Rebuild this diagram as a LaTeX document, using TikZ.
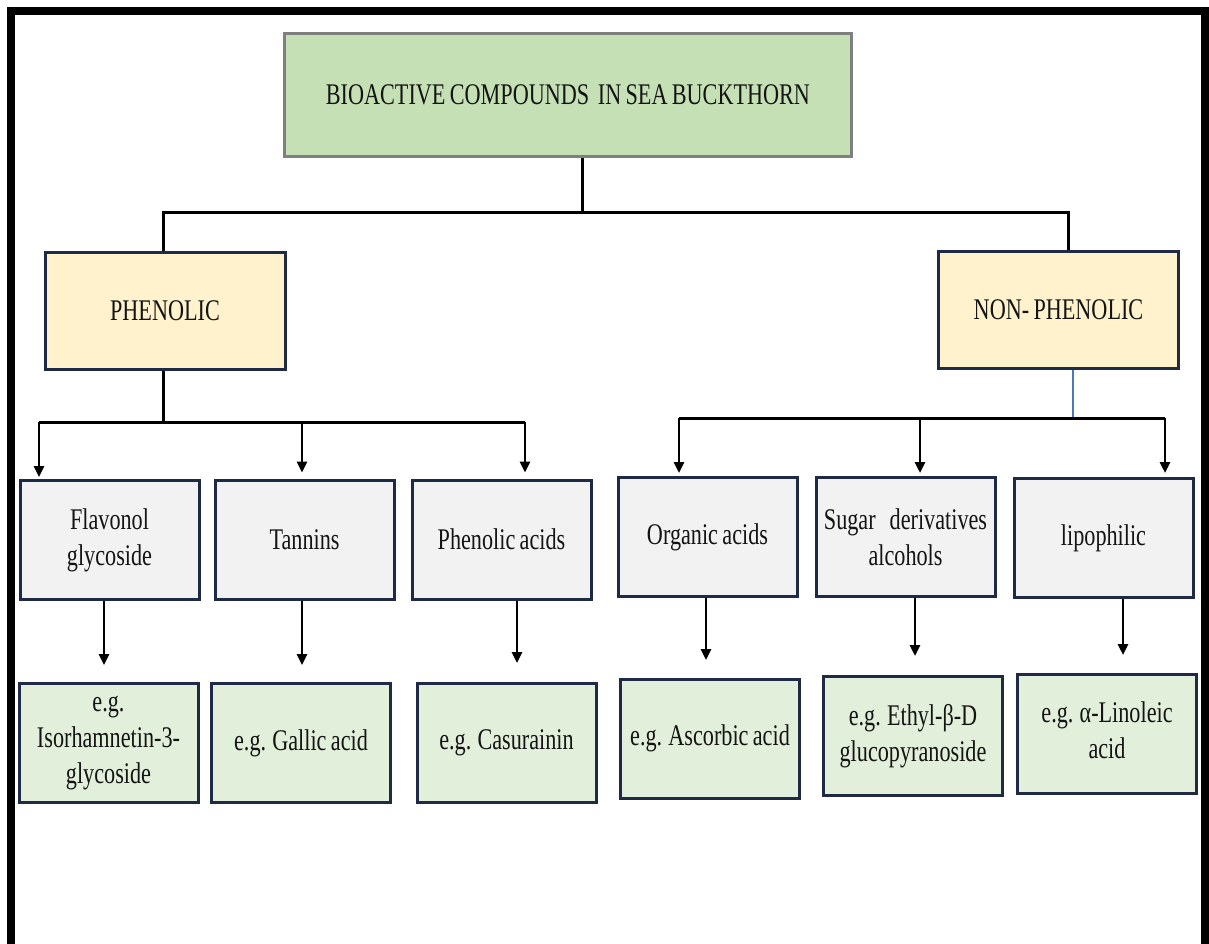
\documentclass[tikz,border=0pt]{standalone}
\usepackage{fontspec}
\setmainfont[FakeStretch=0.74,WordSpace=0.78]{Liberation Serif}
\usetikzlibrary{arrows.meta}
\definecolor{topfill}{HTML}{C5E0B4}
\definecolor{topdraw}{HTML}{7F7F7F}
\definecolor{catfill}{HTML}{FFF2CC}
\definecolor{navy}{HTML}{1F2B45}
\definecolor{midfill}{HTML}{F2F2F2}
\definecolor{botfill}{HTML}{E2EFDA}
\definecolor{txt}{HTML}{141414}
\definecolor{blueline}{HTML}{4A78B8}
\tikzset{
  basebox/.style={rectangle, inner sep=2pt, align=center, text=txt,
    font=\fontsize{30}{36}\selectfont, line width=3pt},
  topbox/.style={basebox, draw=topdraw, fill=topfill, minimum width=567pt, minimum height=123pt},
  catbox/.style={basebox, draw=navy, fill=catfill, minimum width=240pt, minimum height=117pt},
  midbox/.style={basebox, draw=navy, fill=midfill, minimum width=179pt, minimum height=119pt},
  botbox/.style={basebox, draw=navy, fill=botfill, minimum width=179pt, minimum height=119pt},
  conn/.style={draw=black, line width=3pt},
  arr/.style={draw=black, line width=2.6pt, -{Triangle[length=11pt,width=10pt]}},
  frame/.style={draw=black, line width=8pt}
}
\begin{document}
\begin{tikzpicture}[x=1pt,y=-1pt]
\useasboundingbox (0,0) rectangle (1209,943);
\fill[white] (0,0) rectangle (1209,943);
\draw[frame] (11,950) -- (11,11) -- (1205,11) -- (1205,950);

% boxes
\node[topbox] (top) at (568,95) {BIOACTIVE COMPOUNDS\ \ IN SEA BUCKTHORN};
\node[catbox] (phen) at (165,310.5) {PHENOLIC};
\node[catbox] (nphen) at (1058.5,309.5) {NON- PHENOLIC};

\node[midbox] (m1) at (109.5,540) {Flavonol\\glycoside};
\node[midbox] (m2) at (304.5,539.5) {Tannins};
\node[midbox] (m3) at (501.5,539.5) {Phenolic acids};
\node[midbox] (m4) at (707.5,537) {Organic acids};
\node[midbox] (m5) at (905.5,537) {Sugar\hspace{14pt}derivatives\\alcohols};
\node[midbox] (m6) at (1103.5,538) {lipophilic};

\node[botbox] (b1) at (108.5,743) {e.g.\\Isorhamnetin-3-\\glycoside};
\node[botbox] (b2) at (301,743) {e.g. Gallic acid};
\node[botbox] (b3) at (506.5,742.5) {e.g. Casurainin};
\node[botbox] (b4) at (710,738.5) {e.g. Ascorbic acid};
\node[botbox] (b5) at (913,736) {e.g. Ethyl-β-D\\glucopyranoside};
\node[botbox] (b6) at (1107,733.5) {e.g. α-Linoleic\\acid\vphantom{g}};

% junction coordinates
\coordinate (j0) at (582,212);
\coordinate (jL) at (163,212);
\coordinate (jR) at (1068,212);
\coordinate (pj) at (163,422);
\coordinate (pL) at (39,422);
\coordinate (pM) at (302,422);
\coordinate (pR) at (525,422);
\coordinate (nj) at (1073,418);
\coordinate (nL) at (679,418);
\coordinate (nM) at (920,418);
\coordinate (nR) at (1165,418);
\coordinate (t1) at (104,665);
\coordinate (t2) at (302,665);
\coordinate (t3) at (517,663);
\coordinate (t4) at (706,660);
\coordinate (t5) at (915,656);
\coordinate (t6) at (1123,655);

% top level
\draw[conn] (top.south -| j0) -- (j0);
\draw[conn] (phen.north -| jL) -- (jL) -- (jR) -- (nphen.north -| jR);

% phenolic branch
\draw[conn] (phen.south -| pj) -- (pj);
\draw[conn] (pL) -- (pR);
\draw[arr, shorten >=2pt] (pL) -- (m1.north -| pL);
\draw[arr, shorten >=6pt] (pM) -- (m2.north -| pM);
\draw[arr, shorten >=6pt] (pR) -- (m3.north -| pR);

% non-phenolic branch
\draw[draw=blueline, line width=2pt] (nphen.south -| nj) -- (nj);
\draw[conn] (nL) -- (nR);
\draw[arr, shorten >=3pt] (nL) -- (m4.north -| nL);
\draw[arr, shorten >=3pt] (nM) -- (m5.north -| nM);
\draw[arr, shorten >=4pt] (nR) -- (m6.north -| nR);

% examples
\draw[arr] (m1.south -| t1) -- (t1);
\draw[arr] (m2.south -| t2) -- (t2);
\draw[arr] (m3.south -| t3) -- (t3);
\draw[arr] (m4.south -| t4) -- (t4);
\draw[arr] (m5.south -| t5) -- (t5);
\draw[arr] (m6.south -| t6) -- (t6);
\end{tikzpicture}
\end{document}
